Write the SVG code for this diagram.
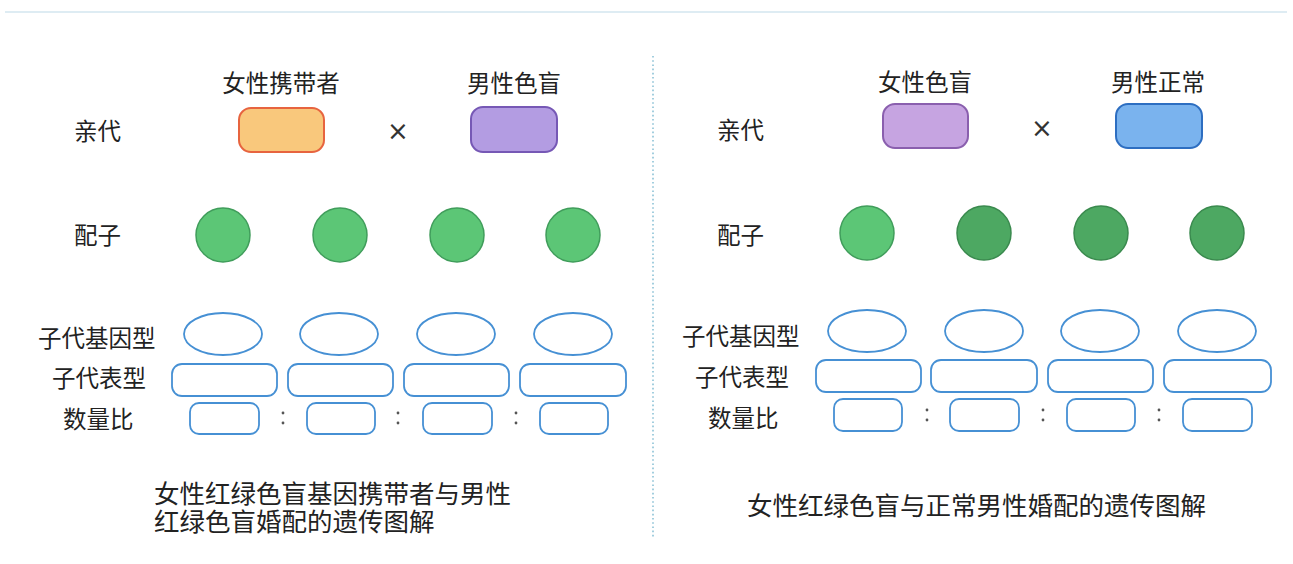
<svg xmlns="http://www.w3.org/2000/svg" width="1293" height="564" viewBox="0 0 1293 564">
<style>
.t{font-family:"Noto Sans CJK SC","Noto Sans",sans-serif;fill:#222;font-size:23.5px}
.h{text-anchor:middle}
.cap{font-size:25.5px}
.x{font-family:"DejaVu Sans",sans-serif;font-size:26px;fill:#333;text-anchor:middle}
.ov{fill:#fff;stroke:#4690d4;stroke-width:1.8}
.g1{fill:#5cc676;stroke:#409d5b;stroke-width:1.5}
.g2{fill:#4da862;stroke:#3a8a4e;stroke-width:1.5}
.dot{fill:#555}
</style>
<rect width="1293" height="564" fill="#fff"/>
<line x1="5" y1="12" x2="1287" y2="12" stroke="#d3e6ef" stroke-width="1.5"/>
<line x1="653" y1="56" x2="653" y2="537" stroke="#8cc2d6" stroke-width="1.6" stroke-dasharray="1.6 2.6"/>
<g id="connectors"/>

<g id="left-labels">
<text class="t" x="74" y="140">亲代</text>
<text class="t" x="74" y="244">配子</text>
<text class="t" x="38" y="347">子代基因型</text>
<text class="t" x="52" y="387">子代表型</text>
<text class="t" x="63" y="428">数量比</text>
</g>
<g id="right-labels">
<text class="t" x="717" y="139">亲代</text>
<text class="t" x="717" y="244">配子</text>
<text class="t" x="682" y="345">子代基因型</text>
<text class="t" x="695" y="386">子代表型</text>
<text class="t" x="708" y="427">数量比</text>
</g>

<g id="left-female">
<text class="t h" x="281" y="92">女性携带者</text>
<rect x="239" y="108" width="85" height="44" rx="12" fill="#f9c87c" stroke="#e7643f" stroke-width="2"/>
</g>
<text class="x" x="398" y="140">×</text>
<g id="left-male">
<text class="t h" x="514" y="92">男性色盲</text>
<rect x="471" y="107" width="86" height="45" rx="12" fill="#b39ce2" stroke="#7658b5" stroke-width="2"/>
</g>

<g id="right-female">
<text class="t h" x="925" y="91">女性色盲</text>
<rect x="883" y="104" width="85" height="44" rx="12" fill="#c6a4e1" stroke="#8a5fae" stroke-width="2"/>
</g>
<text class="x" x="1042" y="137">×</text>
<g id="right-male">
<text class="t h" x="1158" y="91">男性正常</text>
<rect x="1116" y="104" width="86" height="44" rx="12" fill="#7ab3ee" stroke="#2d6ec1" stroke-width="2"/>
</g>

<g id="left-gametes">
<circle class="g1" cx="223" cy="235" r="27"/>
<circle class="g1" cx="340" cy="235" r="27"/>
<circle class="g1" cx="457" cy="235" r="27"/>
<circle class="g1" cx="573" cy="235" r="27"/>
</g>
<g id="right-gametes">
<circle class="g1" cx="867" cy="233" r="27"/>
<circle class="g2" cx="984" cy="233" r="27"/>
<circle class="g2" cx="1101" cy="233" r="27"/>
<circle class="g2" cx="1217" cy="233" r="27"/>
</g>

<g id="left-offspring">
<ellipse class="ov" cx="223" cy="334" rx="39" ry="21"/>
<ellipse class="ov" cx="339" cy="334" rx="39" ry="21"/>
<ellipse class="ov" cx="456" cy="334" rx="39" ry="21"/>
<ellipse class="ov" cx="573" cy="334" rx="39" ry="21"/>
<rect class="ov" x="172" y="364" width="105" height="32" rx="10"/>
<rect class="ov" x="288" y="364" width="105" height="32" rx="10"/>
<rect class="ov" x="404" y="364" width="105" height="32" rx="10"/>
<rect class="ov" x="520" y="364" width="106" height="32" rx="10"/>
<rect class="ov" x="190" y="403" width="69" height="31" rx="9"/>
<rect class="ov" x="307" y="403" width="68" height="31" rx="9"/>
<rect class="ov" x="423" y="403" width="69" height="31" rx="9"/>
<rect class="ov" x="540" y="403" width="68" height="31" rx="9"/>
<circle class="dot" cx="283" cy="413" r="1.4"/><circle class="dot" cx="283" cy="423" r="1.4"/>
<circle class="dot" cx="398" cy="413" r="1.4"/><circle class="dot" cx="398" cy="423" r="1.4"/>
<circle class="dot" cx="516" cy="413" r="1.4"/><circle class="dot" cx="516" cy="423" r="1.4"/>
</g>
<g id="right-offspring">
<ellipse class="ov" cx="867" cy="331" rx="39" ry="21"/>
<ellipse class="ov" cx="984" cy="331" rx="39" ry="21"/>
<ellipse class="ov" cx="1100" cy="331" rx="39" ry="21"/>
<ellipse class="ov" cx="1217" cy="331" rx="39" ry="21"/>
<rect class="ov" x="816" y="360" width="105" height="32" rx="10"/>
<rect class="ov" x="931" y="360" width="106" height="32" rx="10"/>
<rect class="ov" x="1048" y="360" width="105" height="32" rx="10"/>
<rect class="ov" x="1164" y="360" width="107" height="32" rx="10"/>
<rect class="ov" x="834" y="399" width="68" height="32" rx="9"/>
<rect class="ov" x="950" y="399" width="69" height="32" rx="9"/>
<rect class="ov" x="1067" y="399" width="68" height="32" rx="9"/>
<rect class="ov" x="1183" y="399" width="69" height="32" rx="9"/>
<circle class="dot" cx="927" cy="410" r="1.4"/><circle class="dot" cx="927" cy="420" r="1.4"/>
<circle class="dot" cx="1043" cy="410" r="1.4"/><circle class="dot" cx="1043" cy="420" r="1.4"/>
<circle class="dot" cx="1159" cy="410" r="1.4"/><circle class="dot" cx="1159" cy="420" r="1.4"/>
</g>

<g id="left-caption">
<text class="t cap" x="154" y="503"><tspan x="154" y="503">女性红绿色盲基因携带者与男性</tspan><tspan x="154" y="531">红绿色盲婚配的遗传图解</tspan></text>
</g>
<g id="right-caption">
<text class="t cap" x="747" y="515">女性红绿色盲与正常男性婚配的遗传图解</text>
</g>
</svg>
